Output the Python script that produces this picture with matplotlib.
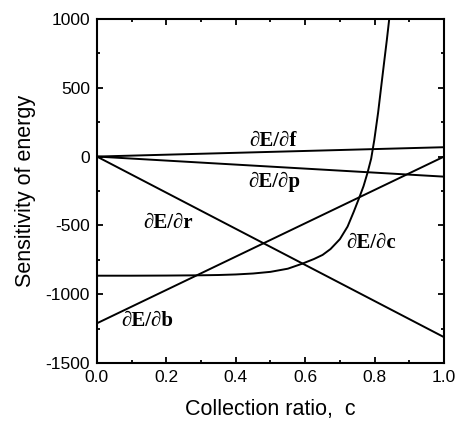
import numpy as np
import matplotlib.pyplot as plt

# straight lines, values at c = 0 and c = 1
c_ends = [0.0, 1.0]
dEdf = [0, 68]
dEdp = [0, -146]
dEdr = [0, -1313]
dEdb = [-1212, 0]

# curved dE/dc
c_curve = [0.0, 0.1, 0.2, 0.3, 0.35, 0.4, 0.45, 0.5, 0.55, 0.59, 0.625, 0.65,
           0.673, 0.70, 0.722, 0.74, 0.755, 0.768, 0.779, 0.79, 0.799,
           0.81, 0.818, 0.828, 0.835, 0.842]
dEdc = [-866, -866, -865, -863, -861, -857, -850, -838, -815, -780, -745, -715,
        -672, -600, -509, -400, -303, -215, -122, -15, 121,
        320, 490, 700, 845, 1000]

plt.rcParams['font.family'] = ['Liberation Sans', 'DejaVu Sans']
plt.rcParams['axes.unicode_minus'] = False

fig = plt.figure(figsize=(4.55, 4.22), dpi=100)
ax = fig.add_axes([0.213, 0.140, 0.763, 0.815])

lw = 1.4
for ys in [dEdf, dEdp, dEdr, dEdb]:
    ax.plot(c_ends, ys, color='black', lw=lw)
ax.plot(c_curve, dEdc, color='black', lw=lw)

ax.set_xlim(0, 1.0)
ax.set_ylim(-1500, 1000)
ax.set_xticks(np.arange(0, 1.01, 0.2))
ax.set_xticks(np.arange(0, 1.01, 0.1), minor=True)
ax.set_yticks(np.arange(-1500, 1001, 500))
ax.set_yticks(np.arange(-1500, 1001, 250), minor=True)
ax.xaxis.set_major_formatter(plt.FormatStrFormatter('%.1f'))
ax.tick_params(which='both', direction='in', top=True, right=True, width=1.3)
ax.tick_params(which='major', length=4.5, labelsize=12.5, pad=5)
ax.tick_params(which='minor', length=2.5)
for s in ax.spines.values():
    s.set_linewidth(1.5)

ax.set_xlabel('Collection ratio,  c', fontsize=15.5, labelpad=10)
ax.set_ylabel('Sensitivity of energy', fontsize=15.5, labelpad=7)

serif = dict(family=['Liberation Serif', 'DejaVu Serif'], fontsize=15,
             fontweight='bold', ha='center', va='center')
ax.text(0.506, 113, '∂E/∂f', **serif)
ax.text(0.512, -185, '∂E/∂p', **serif)
ax.text(0.205, -483, '∂E/∂r', **serif)
ax.text(0.145, -1194, '∂E/∂b', **serif)
ax.text(0.789, -628, '∂E/∂c', **serif)

fig.savefig('out.png', dpi=100)
